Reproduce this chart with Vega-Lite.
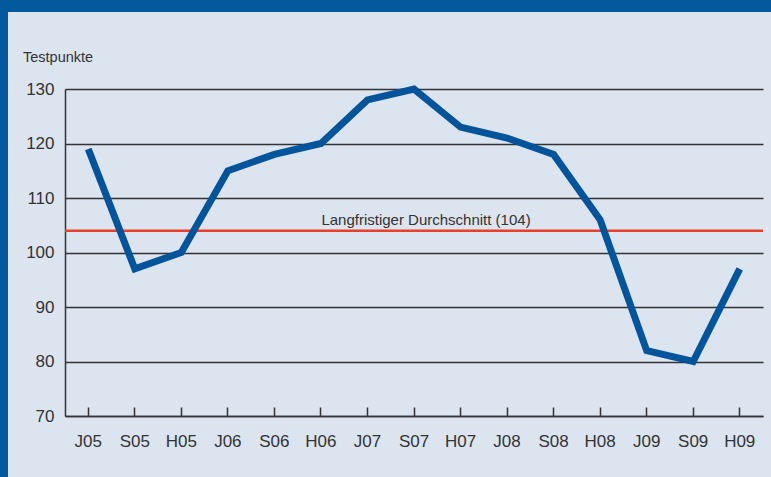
{
  "$schema": "https://vega.github.io/schema/vega-lite/v6.json",
  "width": 763,
  "height": 465,
  "autosize": {"type": "none"},
  "padding": {"left": 8, "top": 12, "right": 0, "bottom": 0},
  "background": "#04589c",
  "view": {"fill": "#dce4f0", "stroke": null},
  "config": {"font": "Liberation Sans"},
  "datasets": {
    "index": [
      {"period": "J05", "value": 119},
      {"period": "S05", "value": 97},
      {"period": "H05", "value": 100},
      {"period": "J06", "value": 115},
      {"period": "S06", "value": 118},
      {"period": "H06", "value": 120},
      {"period": "J07", "value": 128},
      {"period": "S07", "value": 130},
      {"period": "H07", "value": 123},
      {"period": "J08", "value": 121},
      {"period": "S08", "value": 118},
      {"period": "H08", "value": 106},
      {"period": "J09", "value": 82},
      {"period": "S09", "value": 80},
      {"period": "H09", "value": 97}
    ],
    "avg": [{"label": "Langfristiger Durchschnitt (104)", "value": 104}]
  },
  "layer": [
    {
      "data": {"name": "avg"},
      "mark": {"type": "rule", "color": "#e8402a", "strokeWidth": 2.5},
      "encoding": {
        "y": {"field": "value", "type": "quantitative"},
        "x": {"datum": "J05", "bandPosition": 0},
        "x2": {"datum": "H09", "bandPosition": 1}
      }
    },
    {
      "data": {"name": "avg"},
      "mark": {"type": "text", "fontSize": 15, "color": "#333333", "dx": 12, "dy": -6, "baseline": "alphabetic", "align": "center"},
      "encoding": {
        "y": {"field": "value", "type": "quantitative"},
        "x": {"datum": "S07", "bandPosition": 0.5},
        "text": {"field": "label"}
      }
    },
    {
      "data": {"name": "index"},
      "mark": {"type": "line", "color": "#03549a", "strokeWidth": 7, "strokeJoin": "miter", "strokeCap": "butt"},
      "encoding": {
        "x": {
          "field": "period", "type": "ordinal", "sort": null, "bandPosition": 0.5,
          "scale": {"type": "band", "domain": ["J05", "S05", "H05", "J06", "S06", "H06", "J07", "S07", "H07", "J08", "S08", "H08", "J09", "S09", "H09"], "range": [57, 755], "paddingInner": 0, "paddingOuter": 0},
          "axis": {"title": null, "orient": "bottom", "offset": -61, "domainColor": "#333333", "domainWidth": 1.5, "tickColor": "#333333", "tickWidth": 1.5, "tickSize": -9, "labelPadding": 34, "labelFontSize": 17, "labelColor": "#333333", "labelAngle": 0, "labelAlign": "center", "labelFlush": false, "grid": false, "bandPosition": 0.5}
        },
        "y": {
          "field": "value", "type": "quantitative",
          "scale": {"domain": [70, 130], "range": [404, 77], "nice": false, "zero": false},
          "axis": {"values": [70, 80, 90, 100, 110, 120, 130], "offset": -57, "title": "Testpunkte", "titleAngle": 0, "titleX": -42.5, "titleY": 49, "titleAlign": "left", "titleBaseline": "alphabetic", "titleFontSize": 14.5, "titleFontWeight": "normal", "titleColor": "#333333", "grid": true, "gridColor": "#333333", "gridWidth": 1.5, "ticks": false, "domainColor": "#333333", "domainWidth": 1.5, "labelPadding": 11, "labelFontSize": 17, "labelColor": "#333333"}
        }
      }
    }
  ]
}
